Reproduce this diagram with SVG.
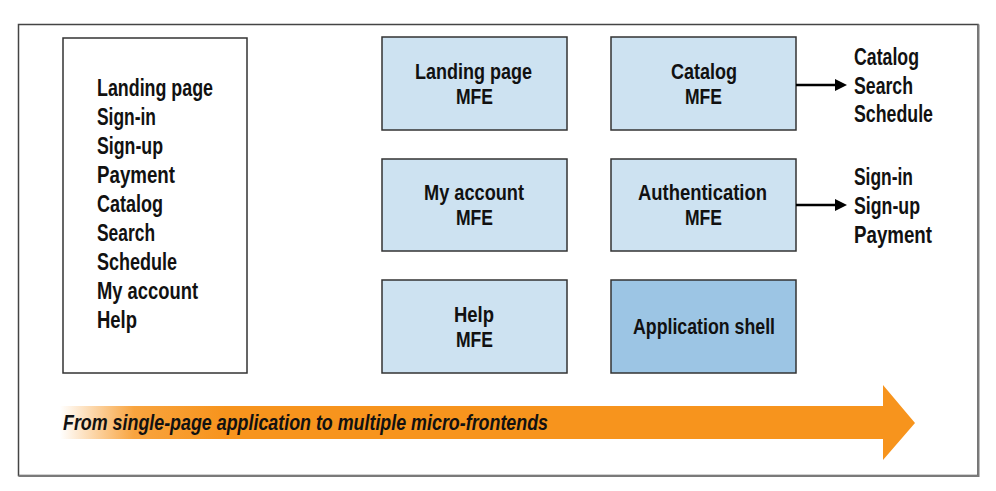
<svg xmlns="http://www.w3.org/2000/svg" width="996" height="491" viewBox="0 0 996 491">
<style>
  text { font-family: "Liberation Sans", Arial, sans-serif; font-size: 23px; font-weight: bold; fill: #111; }
  .in { font-size: 22px; }
  .box { fill: #cde2f1; stroke: #333; stroke-width: 1.5; }
  .shell { fill: #9cc5e4; stroke: #333; stroke-width: 1.5; }
  .plain { fill: #fff; stroke: #333; stroke-width: 1.5; }
  .conn { stroke: #000; stroke-width: 2.5; fill: none; }
  .banner { font-style: italic; font-size: 22px; }
</style>
<defs>
  <linearGradient id="fade" x1="60" y1="0" x2="884" y2="0" gradientUnits="userSpaceOnUse">
    <stop offset="0" stop-color="#f7941d" stop-opacity="0"/>
    <stop offset="0.09" stop-color="#f7941d" stop-opacity="0.85"/>
    <stop offset="0.2" stop-color="#f7941d" stop-opacity="1"/>
    <stop offset="1" stop-color="#f7941d" stop-opacity="1"/>
  </linearGradient>
  <marker id="arrow" markerUnits="userSpaceOnUse" markerWidth="13" markerHeight="14" refX="3" refY="7" orient="auto">
    <path d="M0,1 L12,7 L0,13 z" fill="#000"/>
  </marker>
</defs>
<rect width="996" height="491" fill="#fff"/>

<g id="frame">
  <rect x="18.5" y="24.5" width="959.5" height="451" fill="#fff" stroke="#444" stroke-width="1.5"/>
  <path d="M978.5,24.5 V476 H18.5" fill="none" stroke="#7a7a7a" stroke-width="2"/>
</g>

<g id="spa">
  <rect class="plain" x="63" y="38" width="184" height="335"/>
  <text x="97" y="96" textLength="116" lengthAdjust="spacingAndGlyphs">Landing page</text>
  <text x="97" y="125" textLength="59" lengthAdjust="spacingAndGlyphs">Sign-in</text>
  <text x="97" y="154" textLength="66" lengthAdjust="spacingAndGlyphs">Sign-up</text>
  <text x="97" y="183" textLength="78" lengthAdjust="spacingAndGlyphs">Payment</text>
  <text x="97" y="212" textLength="66" lengthAdjust="spacingAndGlyphs">Catalog</text>
  <text x="97" y="241" textLength="58" lengthAdjust="spacingAndGlyphs">Search</text>
  <text x="97" y="270" textLength="80" lengthAdjust="spacingAndGlyphs">Schedule</text>
  <text x="97" y="299" textLength="101" lengthAdjust="spacingAndGlyphs">My account</text>
  <text x="97" y="328" textLength="40" lengthAdjust="spacingAndGlyphs">Help</text>
</g>

<g id="landing-mfe">
  <rect class="box" x="382" y="37" width="185" height="93"/>
  <text class="in" x="415" y="79" textLength="117" lengthAdjust="spacingAndGlyphs">Landing page</text>
  <text class="in" x="456" y="104" textLength="37" lengthAdjust="spacingAndGlyphs">MFE</text>
</g>

<g id="catalog-mfe">
  <rect class="box" x="611" y="37" width="185" height="93"/>
  <text class="in" x="671" y="79" textLength="66" lengthAdjust="spacingAndGlyphs">Catalog</text>
  <text class="in" x="685" y="104" textLength="37" lengthAdjust="spacingAndGlyphs">MFE</text>
</g>

<g id="account-mfe">
  <rect class="box" x="382" y="159" width="185" height="92"/>
  <text class="in" x="424" y="200" textLength="100" lengthAdjust="spacingAndGlyphs">My account</text>
  <text class="in" x="456" y="225" textLength="37" lengthAdjust="spacingAndGlyphs">MFE</text>
</g>

<g id="auth-mfe">
  <rect class="box" x="611" y="159" width="185" height="92"/>
  <text class="in" x="638" y="200" textLength="129" lengthAdjust="spacingAndGlyphs">Authentication</text>
  <text class="in" x="685" y="225" textLength="37" lengthAdjust="spacingAndGlyphs">MFE</text>
</g>

<g id="help-mfe">
  <rect class="box" x="382" y="280" width="185" height="93"/>
  <text class="in" x="454" y="322" textLength="40" lengthAdjust="spacingAndGlyphs">Help</text>
  <text class="in" x="456" y="347" textLength="37" lengthAdjust="spacingAndGlyphs">MFE</text>
</g>

<g id="app-shell">
  <rect class="shell" x="611" y="280" width="185" height="93"/>
  <text class="in" x="633" y="334" textLength="142" lengthAdjust="spacingAndGlyphs">Application shell</text>
</g>

<g id="catalog-pages">
  <text x="854" y="65" textLength="65" lengthAdjust="spacingAndGlyphs">Catalog</text>
  <text x="854" y="93.5" textLength="59" lengthAdjust="spacingAndGlyphs">Search</text>
  <text x="854" y="122" textLength="79" lengthAdjust="spacingAndGlyphs">Schedule</text>
</g>

<g id="auth-pages">
  <text x="854" y="185" textLength="59" lengthAdjust="spacingAndGlyphs">Sign-in</text>
  <text x="854" y="214" textLength="66" lengthAdjust="spacingAndGlyphs">Sign-up</text>
  <text x="854" y="243" textLength="78" lengthAdjust="spacingAndGlyphs">Payment</text>
</g>

<g id="connectors">
  <line class="conn" x1="796" y1="85" x2="838" y2="85" marker-end="url(#arrow)"/>
  <line class="conn" x1="796" y1="205" x2="838" y2="205" marker-end="url(#arrow)"/>
</g>

<g id="migration-arrow">
  <path d="M60,406 H883 V385 L915,423 L883,460 V439 H60 z" fill="url(#fade)"/>
  <text class="banner" x="63" y="430" textLength="485" lengthAdjust="spacingAndGlyphs">From single-page application to multiple micro-frontends</text>
</g>
</svg>
